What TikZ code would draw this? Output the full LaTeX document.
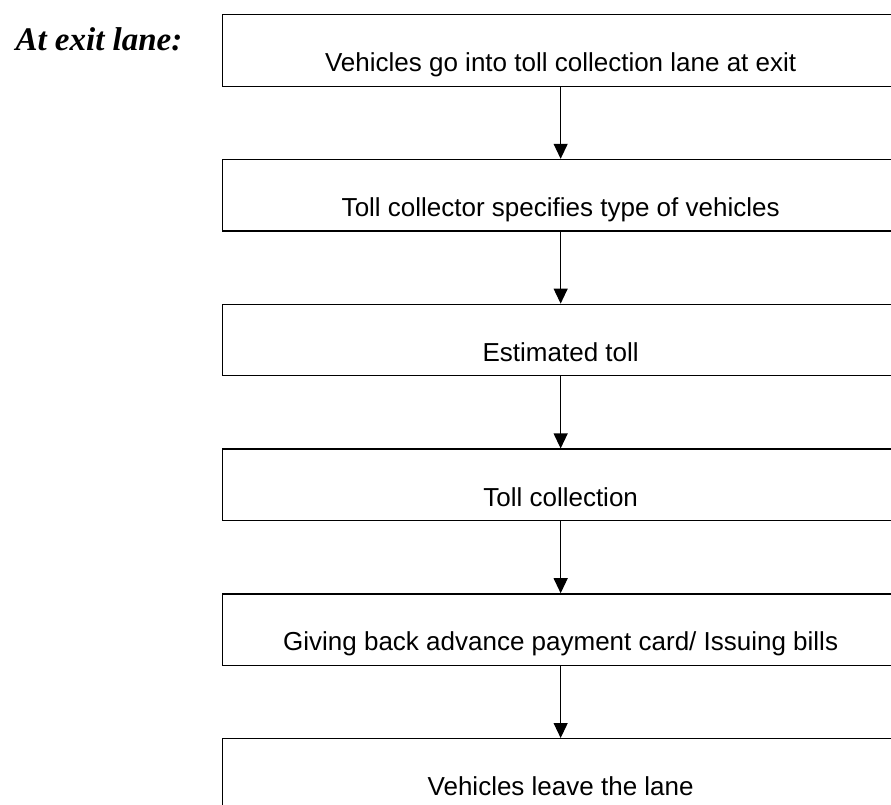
\documentclass[tikz,border=0pt]{standalone}
\usepackage{fontspec}
\setmainfont{Liberation Sans}
\newfontfamily\titlefont{Liberation Serif}
\usepackage{tikz}
\usetikzlibrary{arrows.meta,positioning}

\begin{document}
\begin{tikzpicture}[x=1pt, y=-1pt,
    stepbox/.style={draw, line width=1.3pt, anchor=north west, minimum width=676pt,
                    inner ysep=0pt, text height=57pt, text depth=14.5pt,
                    font=\fontsize{26}{31}\selectfont},
    flow/.style={line width=1.2pt, -{Triangle[length=15pt,width=14pt]}},
    node distance=72pt]

\clip (0,0) rectangle (891,804);
\fill[white] (0,0) rectangle (891,804);

\node[anchor=base west, font=\titlefont\bfseries\itshape\fontsize{33}{38}\selectfont] (title) at (12,50) {At exit lane:};

\node[stepbox] (enter) at (222,14) {Vehicles go into toll collection lane at exit};
\node[stepbox, below=of enter.south west, anchor=north west] (type) {Toll collector specifies type of vehicles};
\node[stepbox, below=of type.south west, anchor=north west] (estimate) {Estimated toll};
\node[stepbox, below=of estimate.south west, anchor=north west] (collect) {Toll collection};
\node[stepbox, below=of collect.south west, anchor=north west] (bills) {Giving back advance payment card/ Issuing bills};
\node[stepbox, below=of bills.south west, anchor=north west] (leave) {Vehicles leave the lane};

\draw[flow] (enter) -- (type);
\draw[flow] (type) -- (estimate);
\draw[flow] (estimate) -- (collect);
\draw[flow] (collect) -- (bills);
\draw[flow] (bills) -- (leave);

\end{tikzpicture}
\end{document}
